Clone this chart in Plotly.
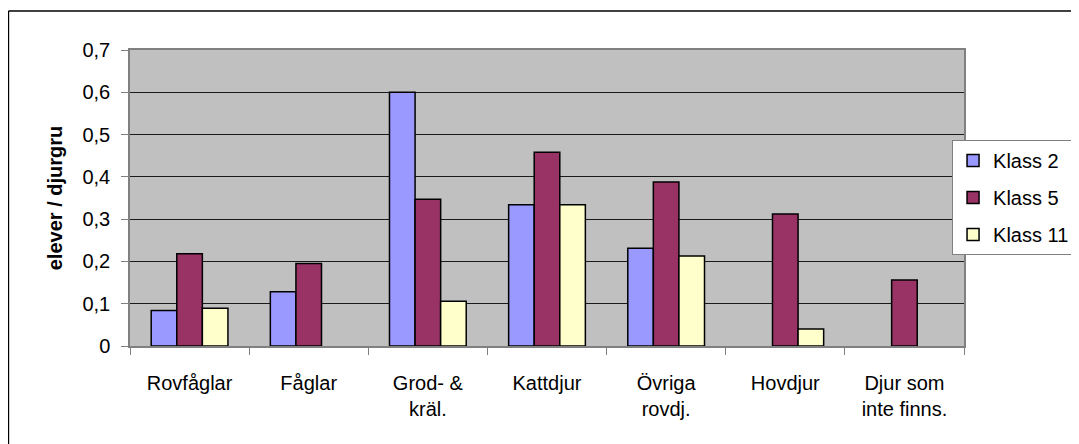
# import necessary libraries
import plotly.graph_objs as go

# categories and values
categories = ["Rovfåglar", "Fåglar", "Grod- &<br>kräl.", "Kattdjur",
              "Övriga<br>rovdj.", "Hovdjur", "Djur som<br>inte finns."]
klass2 = [0.084, 0.128, 0.600, 0.334, 0.231, None, None]
klass5 = [0.218, 0.195, 0.347, 0.458, 0.388, 0.312, 0.156]
klass11 = [0.089, None, 0.106, 0.334, 0.213, 0.040, None]

series = [("Klass 2", klass2, "#9999FF"),
          ("Klass 5", klass5, "#993366"),
          ("Klass 11", klass11, "#FFFFCC")]

font_family = "Arial, Liberation Sans, sans-serif"

fig = go.Figure()

# one bar trace per class
for name, vals, color in series:
  fig.add_trace(go.Bar(
    x=categories,
    y=vals,
    name=name,
    legendgroup=name,
    marker=dict(color=color, line=dict(color="black", width=1.5)),
  ))

# the page adds an 8px body margin, so positions are shifted by it
off = 8
W, H = 1079, 444
ml, mt = 130 - off, 50 - off
pw, ph = 837, 296
mr = W - ml - pw
mb = H - mt - ph

# outer chart frame (left and top edges visible in the picture)
fx = (8 - off - ml) / pw
fy = (H - mb - (11 - off)) / ph
fig.add_shape(type="line", xref="paper", yref="paper",
              x0=fx, x1=fx, y0=-1, y1=fy, line=dict(color="black", width=1.5))
fig.add_shape(type="line", xref="paper", yref="paper",
              x0=fx, x1=2, y0=fy, y1=fy, line=dict(color="black", width=1.5))

fig.update_layout(
  width=W, height=H,
  margin=dict(l=ml, r=mr, t=mt, b=mb),
  paper_bgcolor="white",
  plot_bgcolor="#C0C0C0",
  separators=", ",
  barmode="group",
  bargap=0.356,
  bargroupgap=0,
  font=dict(family=font_family, size=20, color="black"),
  legend=dict(
    x=(955 - off - ml) / pw, xanchor="left",
    y=(H - mb - (140 - off)) / ph, yanchor="top",
    bgcolor="white", bordercolor="#808080", borderwidth=1,
    tracegroupgap=8,
    font=dict(size=20),
  ),
  xaxis=dict(
    showline=True, linecolor="#808080", linewidth=1.5, mirror=True,
    ticks="outside", tickson="boundaries", ticklen=7, tickcolor="#808080",
    ticklabelstandoff=18,
    showgrid=False,
  ),
  yaxis=dict(
    range=[0, 0.7], dtick=0.1,
    showline=True, linecolor="#808080", linewidth=1.5, mirror=True,
    ticks="outside", ticklen=7, tickcolor="#808080",
    ticklabelstandoff=7,
    gridcolor="#1a1a1a", gridwidth=1, zeroline=False,
    title=dict(text="<b>elever / djurgru</b>", font=dict(size=20), standoff=14),
  ),
)

# write graph to file
fig.write_html("out.html")
